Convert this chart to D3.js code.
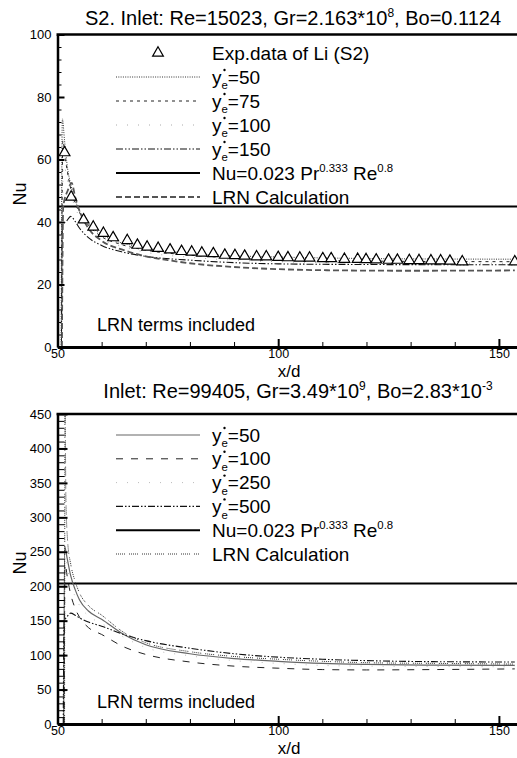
<!DOCTYPE html>
<html>
<head>
<meta charset="utf-8">
<script src="https://cdn.jsdelivr.net/npm/d3@7"></script>
<style>
body { margin: 0; background: #fff; }
svg { display: block; font-family: "Liberation Sans", Arial, sans-serif; }
</style>
</head>
<body>
<div id="chart"></div>
<script>
// ---------- data ----------
var xDomain = [50, 154.1];
var xMajor = [50, 100, 150];
var xMinor = [60, 70, 80, 90, 110, 120, 130, 140];

// top panel (S2)
var topYMax = 100;
var topYMajor = [0, 20, 40, 60, 80, 100];
var topYMinor = d3.range(4, 100, 4);
var topNuCorr = 45;
var topExpX = [51.6, 53.1, 55.9, 58.1, 60.4, 62.6, 65.8, 68.1, 70.3, 72.8, 75.5, 78.1, 80.4, 82.7, 85.3, 87.9, 90.2, 92.4, 95.1, 97.3,
  100.0, 102.2, 104.9, 107.1, 110.1, 112.0, 115.0, 118.0, 119.9, 122.2, 125.0, 127.0, 129.7, 131.9, 134.6, 136.8, 138.9, 141.7, 153.6];
var topExpNu = [62.2, 48.0, 40.7, 38.4, 36.4, 35.0, 34.1, 32.6, 32.0, 31.6, 31.1, 30.6, 30.4, 30.1, 29.9, 29.4, 29.3, 29.1, 28.9, 28.9,
  28.7, 28.6, 28.5, 28.5, 28.3, 28.3, 28.1, 28.1, 28.0, 27.9, 27.8, 27.8, 27.7, 27.7, 27.6, 27.6, 27.5, 27.3, 27.3];
var topYe50 = [[50.8, 0], [51.1, 73], [51.6, 66], [52.3, 57], [53, 52], [54, 47], [55, 43.5], [57, 39.5], [60, 36], [63, 34], [67, 32.5],
  [72, 31.2], [80, 30], [90, 29.2], [100, 28.8], [115, 28.4], [130, 28.2], [153.6, 28.1]];
var topYe75 = [[50.9, 0], [51.2, 66], [51.8, 60], [52.5, 54], [53.5, 48], [55, 43], [57, 39], [60, 35.3], [64, 33], [70, 31], [80, 29.4],
  [90, 28.5], [100, 28], [115, 27.6], [130, 27.4], [153.6, 27.3]];
var topYe100 = [[51, 0], [51.3, 60], [52, 55], [53, 49], [54.5, 43], [57, 38], [60, 34.5], [65, 32], [70, 30.3], [80, 28.7], [90, 27.8],
  [100, 27.3], [120, 26.9], [153.6, 26.8]];
var topYe150 = [[50.9, 0], [51.1, 39], [52, 40.2], [53, 41.8], [54, 40.2], [55, 38], [57, 35], [60, 32.5], [65, 30.3], [70, 29], [80, 27.8],
  [90, 27], [100, 26.6], [120, 26.4], [153.6, 26.3]];
var topLRN = [[51, 0], [51.3, 45], [52.3, 50], [53.2, 52.5], [54, 48], [55, 43.5], [57, 38], [60, 34], [65, 31], [70, 29], [75, 27.8],
  [80, 26.8], [90, 25.6], [100, 24.9], [115, 24.5], [130, 24.4], [153.6, 24.5]];

// bottom panel
var botYMax = 450;
var botYMajor = [0, 50, 100, 150, 200, 250, 300, 350, 400, 450];
var botYMinor = d3.range(10, 450, 10);
var botNuCorr = 204;
var botYe50 = [[51.4, 0], [51.6, 258], [52.2, 240], [53, 215], [54, 195], [55, 180], [57, 164], [60, 152], [65, 130], [70, 115], [80, 102],
  [90, 95], [100, 91], [110, 88], [120, 86.5], [135, 85.5], [153.6, 85]];
var botYe100 = [[51.5, 0], [51.7, 232], [52.3, 210], [53, 188], [54, 168], [55, 155], [57, 140], [60, 130], [65, 112], [70, 101], [80, 90],
  [90, 84], [100, 81], [110, 79], [120, 78.5], [135, 79], [153.6, 80]];
var botYe250 = [[51.5, 0], [51.7, 245], [52.3, 225], [53, 203], [54, 185], [55, 172], [57, 157], [60, 146], [65, 126], [70, 111], [80, 99],
  [90, 92], [100, 88], [110, 85], [120, 84], [135, 83.5], [153.6, 83]];
var botYe500 = [[51.3, 0], [51.5, 148], [52.2, 156], [53, 161], [54, 158], [55, 154], [57, 148], [60, 142], [65, 130], [70, 121], [80, 110],
  [90, 102], [100, 97], [110, 94], [120, 92], [135, 90.5], [153.6, 90]];
var botLRN = [[51.6, 0], [51.7, 470], [51.9, 330], [52.3, 265], [53, 232], [54, 207], [55, 190], [57, 172], [60, 158], [65, 133], [70, 118],
  [80, 105], [90, 98], [100, 94], [110, 91], [120, 89], [135, 88], [153.6, 87]];

var topYeLabels = ["50", "75", "100", "150"];
var botYeLabels = ["50", "100", "250", "500"];

// ---------- styles ----------
var topStyles = [
  { stroke: "#333", width: 1, dash: "1,1.3" },
  { stroke: "#222", width: 1, dash: "3,4" },
  { stroke: "#aaa", width: 1, dash: "1,10" },
  { stroke: "#111", width: 1.1, dash: "7,2,1.5,2,1.5,2" },
  { stroke: "#000", width: 2, dash: null },
  { stroke: "#555", width: 1.8, dash: "6,3" }
];
var botStyles = [
  { stroke: "#666", width: 1.2, dash: null },
  { stroke: "#222", width: 1, dash: "7,8" },
  { stroke: "#bbb", width: 1, dash: "1,10" },
  { stroke: "#111", width: 1.1, dash: "7,2,1.5,2,1.5,2" },
  { stroke: "#000", width: 2, dash: null },
  { stroke: "#333", width: 1, dash: "1,1,1,1,1,1,1,1,1,4" }
];

var svgWidth = 517, svgHeight = 758;
var left = 57.5, right = 517;

var svg = d3.select("#chart").append("svg")
  .attr("width", svgWidth)
  .attr("height", svgHeight);
var defs = svg.append("defs");

var x = d3.scaleLinear().domain(xDomain).range([left, right]);

function applyStyle(sel, st) {
  sel.attr("fill", "none")
    .attr("stroke", st.stroke)
    .attr("stroke-width", st.width)
    .attr("stroke-dasharray", st.dash);
}

// text with super/subscript parts
function richText(g, px, py, parts, size, anchor) {
  var t = g.append("text").attr("x", px).attr("y", py)
    .attr("font-size", size).attr("text-anchor", anchor || "start");
  var shift = 0;
  parts.forEach(function (p) {
    var ts = t.append("tspan").text(p.t);
    var target = p.sup ? -size * 0.42 : (p.sub ? size * 0.3 : 0);
    if (target - shift !== 0) ts.attr("dy", target - shift);
    if (p.sup || p.sub) ts.attr("font-size", size * 0.6);
    shift = target;
  });
  return t;
}

function yeParts(v) {
  return [{ t: "y" }, { t: "e", sub: true }, { t: "=" + v }];
}
var nuParts = [{ t: "Nu=0.023 Pr" }, { t: "0.333", sup: true }, { t: " Re" }, { t: "0.8", sup: true }];

function drawPanel(p) {
  var y = d3.scaleLinear().domain([0, p.yMax]).range([p.bottom, p.top]);
  var g = svg.append("g");

  defs.append("clipPath").attr("id", p.id)
    .append("rect").attr("x", left).attr("y", p.top)
    .attr("width", right - left).attr("height", p.bottom - p.top);

  var line = d3.line()
    .x(function (d) { return x(d[0]); })
    .y(function (d) { return y(d[1]); })
    .curve(d3.curveMonotoneX);

  var plot = g.append("g").attr("clip-path", "url(#" + p.id + ")");

  // Nu correlation (horizontal)
  applyStyle(plot.append("path").attr("d", line([[xDomain[0], p.nuCorr], [xDomain[1], p.nuCorr]])), p.styles[4]);

  p.series.forEach(function (s, i) {
    applyStyle(plot.append("path").attr("d", line(s)), p.styles[p.styleIdx[i]]);
  });

  if (p.expX) {
    plot.selectAll(".exp")
      .data(p.expX)
      .enter()
      .append("path")
      .attr("d", d3.symbol(d3.symbolTriangle, 50))
      .attr("transform", function (d, i) { return "translate(" + x(d) + "," + y(p.expNu[i]) + ")"; })
      .attr("fill", "#fff")
      .attr("stroke", "#000")
      .attr("stroke-width", 1.2);
  }

  // axes
  var yMin = g.append("g").attr("transform", "translate(" + left + ",0)")
    .call(d3.axisLeft(y).tickValues(p.yMinor).tickSize(-p.minorLen).tickSizeOuter(0).tickFormat(""));
  yMin.select(".domain").remove();
  yMin.selectAll("line").attr("stroke-width", 1);

  var yAx = g.append("g").attr("transform", "translate(" + left + ",0)")
    .call(d3.axisLeft(y).tickValues(p.yMajor).tickSize(-p.majorLen).tickSizeOuter(0).tickPadding(6));
  yAx.select(".domain").attr("stroke-width", 2.5);
  yAx.selectAll("line").attr("stroke-width", 2);
  yAx.selectAll("text").attr("font-size", 13).attr("font-family", "Liberation Sans, Arial, sans-serif");

  var xMin = g.append("g").attr("transform", "translate(0," + p.bottom + ")")
    .call(d3.axisBottom(x).tickValues(xMinor).tickSize(-5).tickSizeOuter(0).tickFormat(""));
  xMin.select(".domain").remove();
  xMin.selectAll("line").attr("stroke-width", 1);

  var xAx = g.append("g").attr("transform", "translate(0," + p.bottom + ")")
    .call(d3.axisBottom(x).tickValues(xMajor).tickSize(-8).tickSizeOuter(0).tickPadding(2));
  xAx.select(".domain").attr("stroke-width", 3);
  xAx.selectAll("line").attr("stroke-width", 2);
  xAx.selectAll("text").attr("font-size", 12.5).attr("font-family", "Liberation Sans, Arial, sans-serif");

  // top frame
  g.append("line").attr("x1", left - 1).attr("x2", right).attr("y1", p.top).attr("y2", p.top)
    .attr("stroke", "#000").attr("stroke-width", 2.5);

  // labels
  g.append("text").attr("x", 289).attr("y", p.bottom + 30)
    .attr("text-anchor", "middle").attr("font-size", 17).text("x/d");
  g.append("text").attr("transform", "translate(26," + p.nuLabelY + ") rotate(-90)")
    .attr("text-anchor", "middle").attr("font-size", 18).text("Nu");
  richText(g, p.titleX, p.titleY, p.title, 20, "middle");
  g.append("text").attr("x", 97).attr("y", p.bottom - 16).attr("font-size", 18).text("LRN terms included");

  // legend
  p.legend.forEach(function (item, i) {
    var ly = p.legendY0 + i * p.legendStep;
    if (item.marker) {
      g.append("path").attr("d", d3.symbol(d3.symbolTriangle, 50))
        .attr("transform", "translate(158," + ly + ")")
        .attr("fill", "#fff").attr("stroke", "#000").attr("stroke-width", 1.2);
    } else {
      applyStyle(g.append("line").attr("x1", 116).attr("x2", 200).attr("y1", ly).attr("y2", ly), p.styles[item.style]);
    }
    var t = richText(g, 212, ly + 6.5, item.parts, 19, "start");
    if (item.star) {
      // the small "*" mark drawn as a dot above the subscript e
      var yw = t.select("tspan").node().getComputedTextLength();
      g.append("circle").attr("cx", 212 + yw + 3).attr("cy", ly - 7).attr("r", 1.2).attr("fill", "#000");
    }
  });
}

drawPanel({
  id: "clipTop", top: 34.5, bottom: 347, yMax: topYMax,
  yMajor: topYMajor, yMinor: topYMinor, majorLen: 7, minorLen: 4,
  nuCorr: topNuCorr,
  series: [topYe50, topYe75, topYe100, topYe150, topLRN], styleIdx: [0, 1, 2, 3, 5],
  styles: topStyles,
  expX: topExpX, expNu: topExpNu,
  title: [{ t: "S2. Inlet: Re=15023, Gr=2.163*10" }, { t: "8", sup: true }, { t: ", Bo=0.1124" }],
  titleX: 293, titleY: 25, nuLabelY: 194,
  legendY0: 53, legendStep: 24,
  legend: [
    { marker: true, parts: [{ t: "Exp.data of Li (S2)" }] },
    { style: 0, star: true, parts: yeParts(topYeLabels[0]) },
    { style: 1, star: true, parts: yeParts(topYeLabels[1]) },
    { style: 2, star: true, parts: yeParts(topYeLabels[2]) },
    { style: 3, star: true, parts: yeParts(topYeLabels[3]) },
    { style: 4, parts: nuParts },
    { style: 5, parts: [{ t: "LRN Calculation" }] }
  ]
});

drawPanel({
  id: "clipBot", top: 414, bottom: 724, yMax: botYMax,
  yMajor: botYMajor, yMinor: botYMinor, majorLen: 10, minorLen: 7,
  nuCorr: botNuCorr,
  series: [botYe50, botYe100, botYe250, botYe500, botLRN], styleIdx: [0, 1, 2, 3, 5],
  styles: botStyles,
  title: [{ t: "Inlet: Re=99405, Gr=3.49*10" }, { t: "9", sup: true }, { t: ", Bo=2.83*10" }, { t: "-3", sup: true }],
  titleX: 298, titleY: 398, nuLabelY: 563,
  legendY0: 435, legendStep: 23.8,
  legend: [
    { style: 0, star: true, parts: yeParts(botYeLabels[0]) },
    { style: 1, star: true, parts: yeParts(botYeLabels[1]) },
    { style: 2, star: true, parts: yeParts(botYeLabels[2]) },
    { style: 3, star: true, parts: yeParts(botYeLabels[3]) },
    { style: 4, parts: nuParts },
    { style: 5, parts: [{ t: "LRN Calculation" }] }
  ]
});
</script>
</body>
</html>
